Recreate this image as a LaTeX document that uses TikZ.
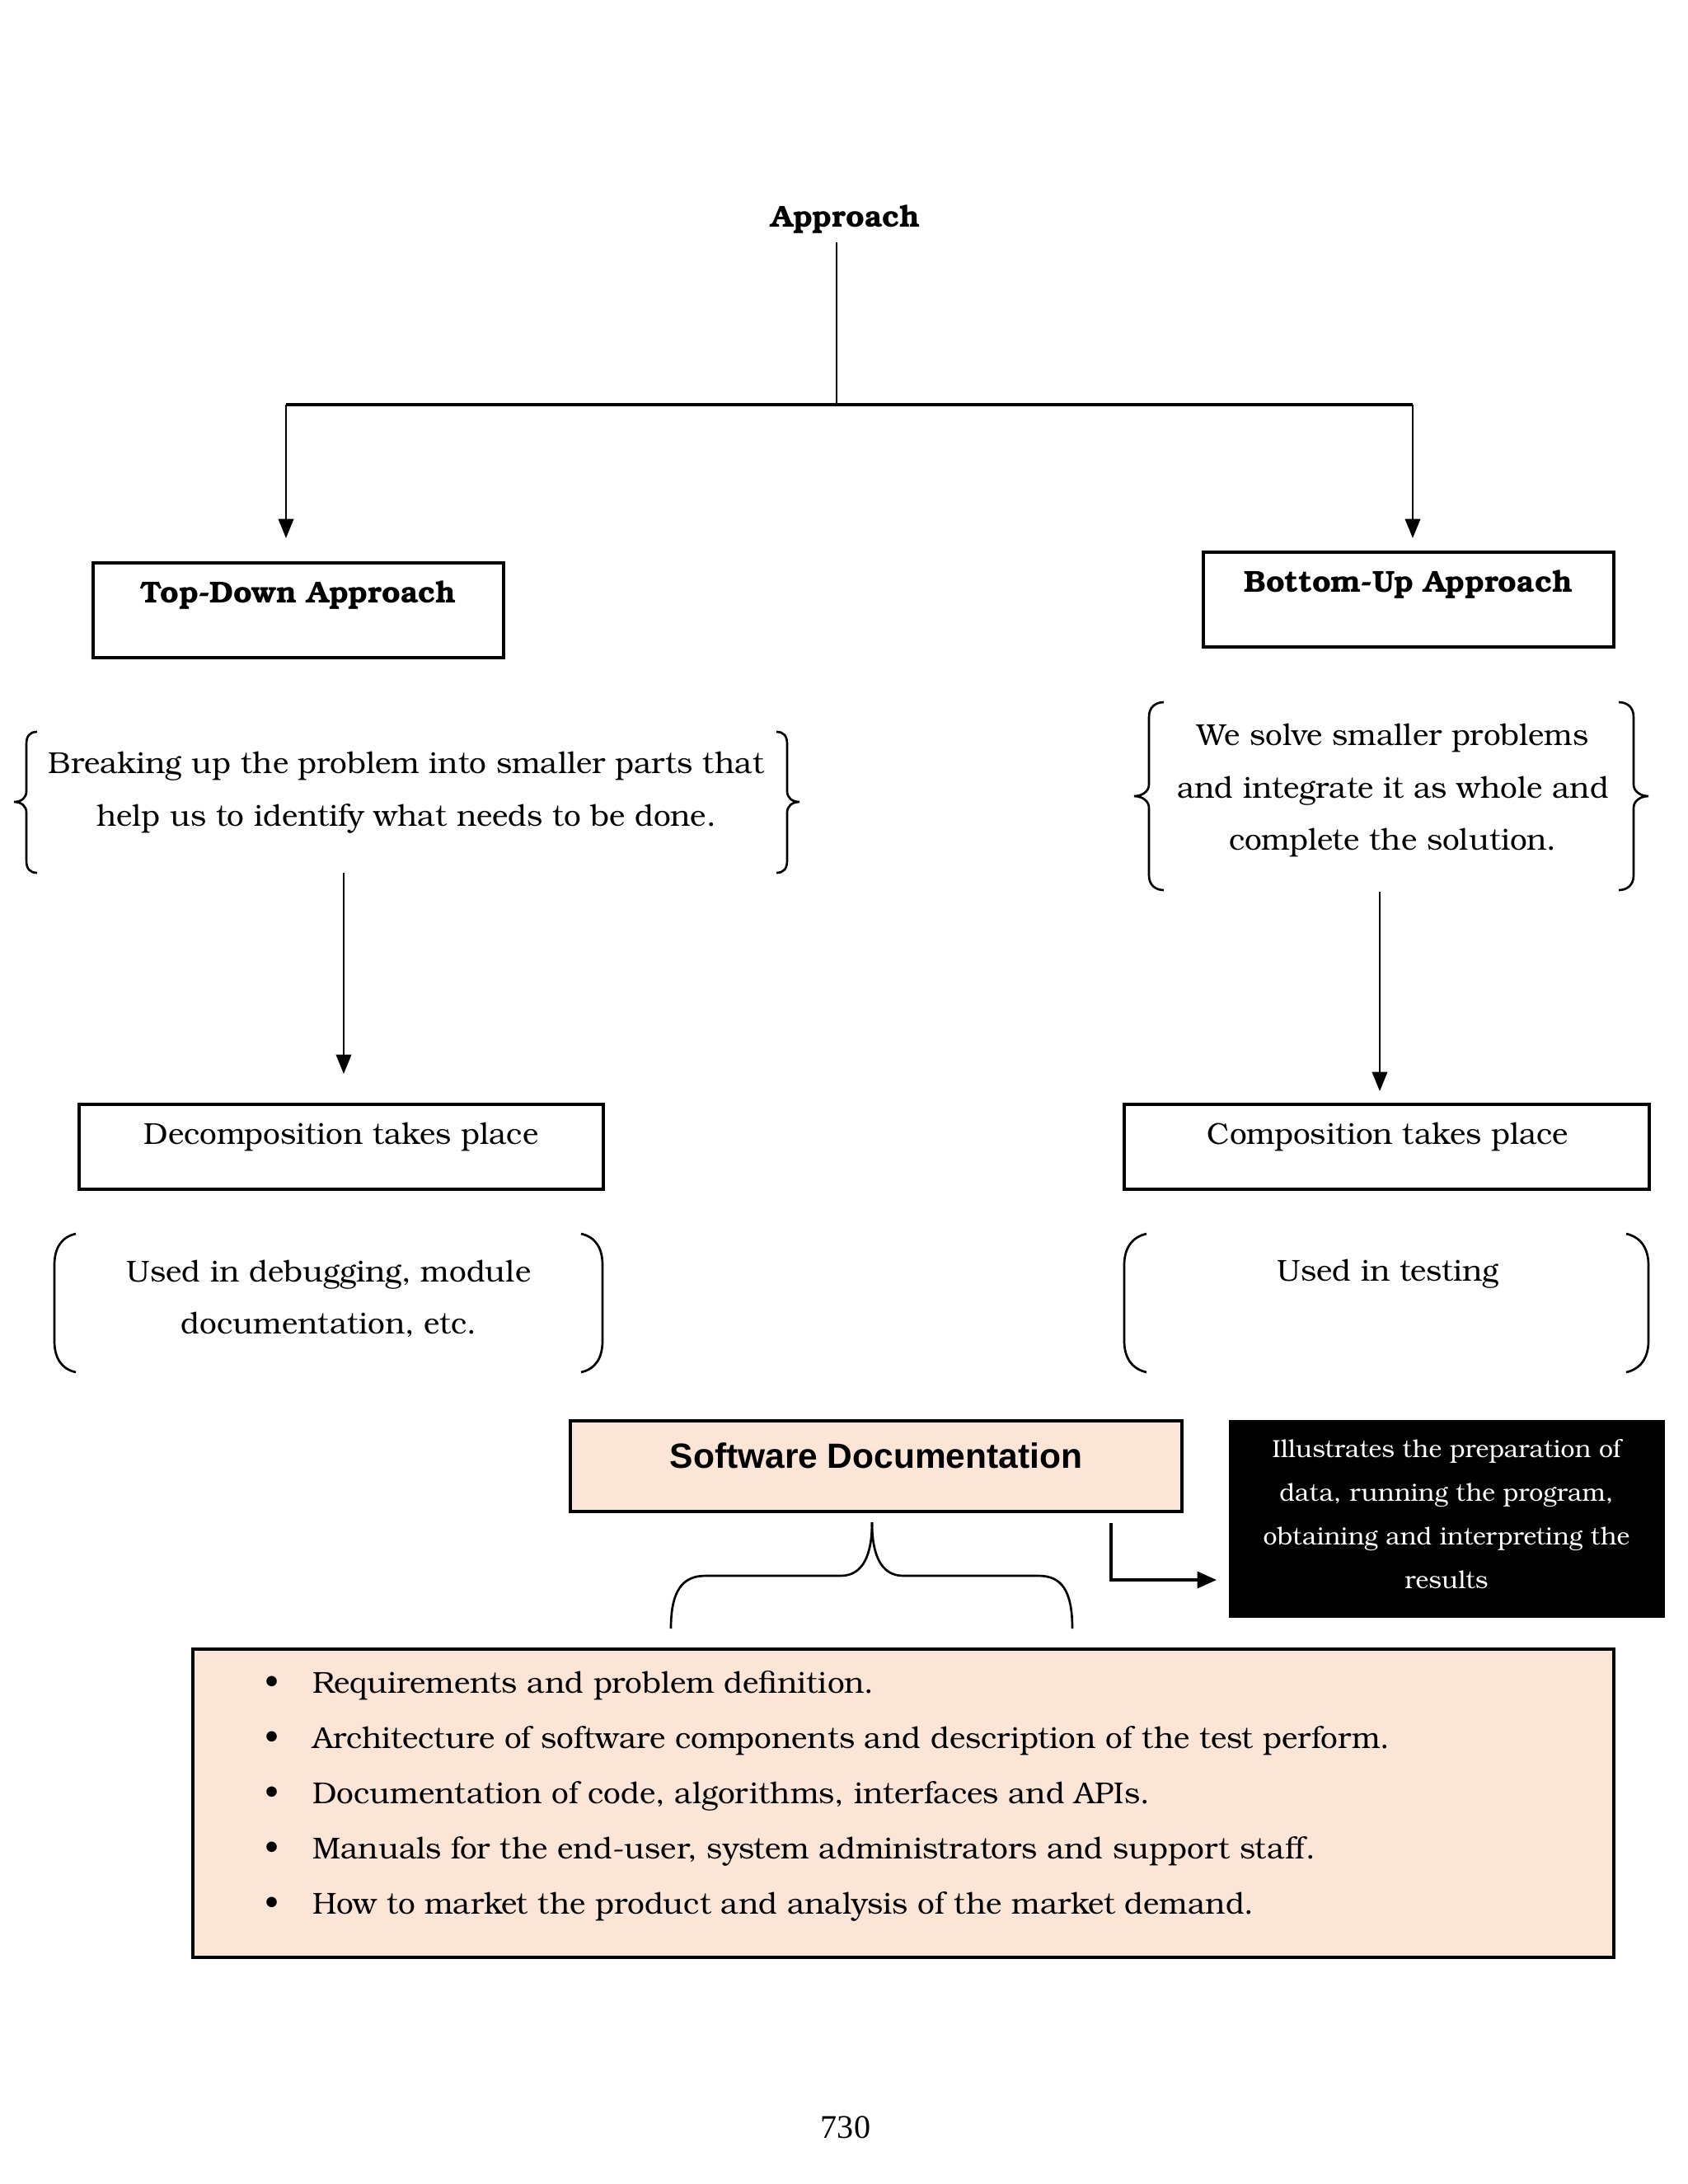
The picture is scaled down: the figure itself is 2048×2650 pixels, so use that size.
\documentclass[tikz,border=0pt]{standalone}
\usepackage{fontspec}
\setmainfont{TeX Gyre Bonum}
\newfontfamily\arialf{Liberation Sans}
\newfontfamily\timesf{Liberation Serif}
\usetikzlibrary{arrows.meta,fit}
\definecolor{peach}{HTML}{FBE5D6}
\begin{document}
\begin{tikzpicture}[x=0.29883pt,y=-0.29883pt,
  ln/.style={line width=0.8pt},
  arr/.style={line width=0.8pt,-{Triangle[length=7pt,width=5.5pt]}},
  box/.style={draw,line width=1pt,inner sep=0pt},
  txt/.style={inner sep=0pt,align=center,font=\fontsize{11}{19}\selectfont},
  btxt/.style={inner sep=0pt,align=center,font=\fontsize{11}{19}\selectfont\bfseries},
  brc/.style={line width=0.8pt}]
\fill[white] (0,0) rectangle (2048,2650);
\useasboundingbox (0,0) rectangle (2048,2650);

% title and split
\node[btxt] (appr) at (1026,266) {Approach};
\coordinate (apprb) at (1015,294);
\coordinate (jn) at (1015,491);
\coordinate (jl) at (347,491);
\coordinate (jr) at (1714,491);
\coordinate (tdin) at (347,653);
\coordinate (buin) at (1714,653);
\draw[ln] (apprb) -- (jn);
\draw[line width=1pt] (jl) -- (jr);
\draw[arr] (jl) -- (tdin);
\draw[arr] (jr) -- (buin);

% approach boxes
\node[box,fit={(113,683) (611,798)}] (td) {};
\node[btxt] (tdt) at (362,722) {Top-Down Approach};
\node[box,fit={(1460,670) (1958,785)}] (bu) {};
\node[btxt] (but) at (1709,709) {Bottom-Up Approach};

% left brace group
\node[txt] (tdd) at (493,962) {Breaking up the problem into smaller parts that\\help us to identify what needs to be done.};
\draw[brc] (45,888) .. controls (36,888) and (32,893) .. (32,903) -- (32,960) .. controls (32,968) and (26,973) .. (17,973) .. controls (26,973) and (32,978) .. (32,986) -- (32,1044) .. controls (32,1054) and (36,1059) .. (45,1059);
\draw[brc] (942,888) .. controls (951,888) and (955,893) .. (955,903) -- (955,960) .. controls (955,968) and (961,973) .. (970,973) .. controls (961,973) and (955,978) .. (955,986) -- (955,1044) .. controls (955,1054) and (951,1059) .. (942,1059);

% right brace group
\node[txt] (bud) at (1690,959) {We solve smaller problems\\and integrate it as whole and\\complete the solution.};
\draw[brc] (1412,852) .. controls (1402,852) and (1394,858) .. (1394,870) -- (1394,952) .. controls (1394,960) and (1386,966) .. (1376,966) .. controls (1386,966) and (1394,972) .. (1394,980) -- (1394,1062) .. controls (1394,1074) and (1402,1080) .. (1412,1080);
\draw[brc] (1964,852) .. controls (1974,852) and (1982,858) .. (1982,870) -- (1982,952) .. controls (1982,960) and (1990,966) .. (2000,966) .. controls (1990,966) and (1982,972) .. (1982,980) -- (1982,1062) .. controls (1982,1074) and (1974,1080) .. (1964,1080);

% arrows down
\coordinate (tdo) at (417,1059);
\coordinate (deci) at (417,1303);
\coordinate (buo) at (1674,1082);
\coordinate (comi) at (1674,1324);
\draw[arr] (tdo) -- (deci);
\draw[arr] (buo) -- (comi);

% decomposition / composition
\node[box,fit={(96,1340) (732,1443)}] (dec) {};
\node[txt] (dect) at (414,1379) {Decomposition takes place};
\node[box,fit={(1364,1340) (2001,1443)}] (com) {};
\node[txt] (comt) at (1684,1379) {Composition takes place};

% parenthesis groups
\node[txt] (decu) at (399,1576) {Used in debugging, module\\documentation, etc.};
\draw[brc] (92,1497) .. controls (74,1501) and (66,1515) .. (66,1535) -- (66,1627) .. controls (66,1647) and (74,1661) .. (92,1665);
\draw[brc] (705,1497) .. controls (723,1501) and (731,1515) .. (731,1535) -- (731,1627) .. controls (731,1647) and (723,1661) .. (705,1665);
\node[txt] (comu) at (1684,1546) {Used in testing};
\draw[brc] (1391,1497) .. controls (1373,1501) and (1364,1515) .. (1364,1535) -- (1364,1627) .. controls (1364,1647) and (1373,1661) .. (1391,1665);
\draw[brc] (1973,1497) .. controls (1991,1501) and (2000,1515) .. (2000,1535) -- (2000,1627) .. controls (2000,1647) and (1991,1661) .. (1973,1665);

% software documentation
\node[box,fill=peach,fit={(692,1724) (1434,1834)}] (sd) {};
\node[inner sep=0pt,font=\fontsize{12.7}{15}\selectfont\arialf\bfseries] (sdt) at (1063,1766) {Software Documentation};
\node[fill=black,inner sep=0pt,fit={(1491,1723) (2020,1963)}] (res) {};
\node[inner sep=0pt,align=center,text=white,font=\fontsize{9}{15.8}\selectfont] (rest) at (1755,1837) {Illustrates the preparation of\\data, running the program,\\obtaining and interpreting the\\results};

% brace and arrow
\draw[brc] (814,1976) .. controls (814,1930) and (828,1912) .. (856,1912) -- (1020,1912) .. controls (1048,1912) and (1058,1885) .. (1058,1847);
\draw[brc] (1058,1847) .. controls (1058,1885) and (1068,1912) .. (1096,1912) -- (1260,1912) .. controls (1288,1912) and (1301,1930) .. (1301,1976);
\coordinate (la) at (1348,1848);
\coordinate (lb) at (1348,1917);
\coordinate (lc) at (1476,1917);
\draw[line width=1pt,-{Triangle[length=7pt,width=6pt]}] (la) -- (lb) -- (lc);

% bullet list
\node[box,fill=peach,fit={(234,2001) (1958,2375)}] (lst) {};
\node[anchor=west,inner sep=0pt,font=\fontsize{11}{20}\selectfont] (lstt) at (321,2175) {\begin{tabular}{@{}l@{}}
\makebox[17.3pt][l]{\textbullet}Requirements and problem definition.\\
\makebox[17.3pt][l]{\textbullet}Architecture of software components and description of the test perform.\\
\makebox[17.3pt][l]{\textbullet}Documentation of code, algorithms, interfaces and APIs.\\
\makebox[17.3pt][l]{\textbullet}Manuals for the end-user, system administrators and support staff.\\
\makebox[17.3pt][l]{\textbullet}How to market the product and analysis of the market demand.
\end{tabular}};

\node[inner sep=0pt,font=\fontsize{12}{14}\selectfont\timesf] (pg) at (1026,2581) {730};
\end{tikzpicture}
\end{document}
